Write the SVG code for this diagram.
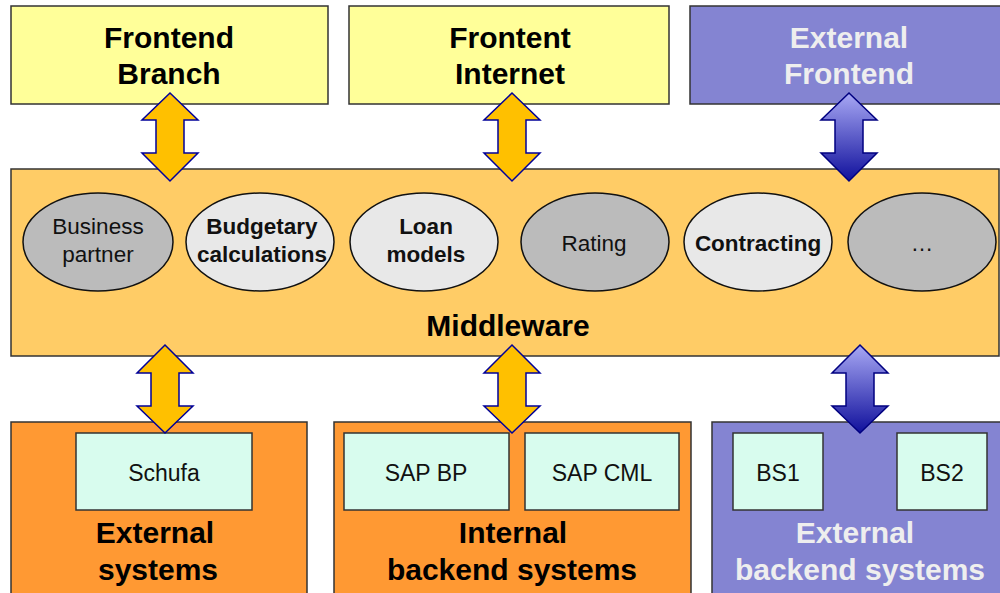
<svg xmlns="http://www.w3.org/2000/svg" width="1000" height="593" viewBox="0 0 1000 593">
<defs>
<linearGradient id="blueGrad" x1="0" y1="0" x2="0" y2="1">
<stop offset="0" stop-color="#A8A8F4"/>
<stop offset="1" stop-color="#10109C"/>
</linearGradient>
<style>
.box{stroke:#333333;stroke-width:1.5}
.yellow{fill:#FFFF99}
.purple{fill:#8484D2}
.mid{fill:#FFCC66}
.orange{fill:#FF9933}
.mint{fill:#D8FCEE;stroke:#333333;stroke-width:1.5}
.ell{stroke:#111111;stroke-width:1.5}
.gray{fill:#BBBBBB}
.light{fill:#E8E8E8}
.title{font-family:"Liberation Sans",Arial,sans-serif;font-weight:bold;font-size:30px;text-anchor:middle;fill:#000000}
.wt{fill:#EEEEEE}
.lbl{font-family:"Liberation Sans",Arial,sans-serif;font-size:22.5px;text-anchor:middle;fill:#111111}
.sm{font-size:23px}
.b{font-weight:bold}
.arr{fill:#FFC000;stroke:#000099;stroke-width:1.5;stroke-linejoin:miter}
.barr{fill:url(#blueGrad);stroke:#000080;stroke-width:1.5}
</style>
</defs>
<rect width="1000" height="593" fill="#FFFFFF"/>

<g id="frontend-branch">
<rect class="box yellow" x="11" y="6" width="317" height="98"/>
<text class="title" x="169" y="48">Frontend</text>
<text class="title" x="169" y="84">Branch</text>
</g>
<g id="frontent-internet">
<rect class="box yellow" x="349" y="6" width="320" height="98"/>
<text class="title" x="510" y="48">Frontent</text>
<text class="title" x="510" y="84">Internet</text>
</g>
<g id="external-frontend">
<rect class="box purple" x="690" y="6" width="315" height="98"/>
<text class="title wt" x="849" y="48">External</text>
<text class="title wt" x="849" y="84">Frontend</text>
</g>

<g id="middleware">
<rect class="box mid" x="11" y="169" width="988" height="187"/>
<text class="title" x="508" y="336">Middleware</text>
</g>
<g id="business-partner">
<ellipse class="ell gray" cx="98" cy="242" rx="75" ry="49"/>
<text class="lbl" x="98" y="234">Business</text>
<text class="lbl" x="98" y="262">partner</text>
</g>
<g id="budgetary-calculations">
<ellipse class="ell light" cx="260" cy="242" rx="74" ry="49"/>
<text class="lbl b" x="262" y="234">Budgetary</text>
<text class="lbl b" x="262" y="262">calculations</text>
</g>
<g id="loan-models">
<ellipse class="ell light" cx="424" cy="242" rx="74" ry="49"/>
<text class="lbl b" x="426" y="234">Loan</text>
<text class="lbl b" x="426" y="262">models</text>
</g>
<g id="rating">
<ellipse class="ell gray" cx="595" cy="242" rx="74" ry="49"/>
<text class="lbl" x="594" y="251">Rating</text>
</g>
<g id="contracting">
<ellipse class="ell light" cx="758" cy="242" rx="74" ry="49"/>
<text class="lbl b" x="758" y="251">Contracting</text>
</g>
<g id="more">
<ellipse class="ell gray" cx="922" cy="242" rx="74" ry="49"/>
<text class="lbl" x="922" y="251">…</text>
</g>

<g id="external-systems">
<rect class="box orange" x="11" y="422" width="296" height="180"/>
<text class="title" x="155" y="543">External</text>
<text class="title" x="158" y="580">systems</text>
</g>
<g id="schufa">
<rect class="mint" x="76" y="433" width="176" height="77"/>
<text class="lbl sm" x="164" y="481">Schufa</text>
</g>
<g id="internal-backend-systems">
<rect class="box orange" x="334" y="422" width="357" height="180"/>
<text class="title" x="513" y="543">Internal</text>
<text class="title" x="512" y="580">backend systems</text>
</g>
<g id="sap-bp">
<rect class="mint" x="344" y="433" width="165" height="77"/>
<text class="lbl sm" x="426" y="481">SAP BP</text>
</g>
<g id="sap-cml">
<rect class="mint" x="525" y="433" width="154" height="77"/>
<text class="lbl sm" x="602" y="481">SAP CML</text>
</g>
<g id="external-backend-systems">
<rect class="box purple" x="712" y="422" width="295" height="180"/>
<text class="title wt" x="855" y="543">External</text>
<text class="title wt" x="860" y="580">backend systems</text>
</g>
<g id="bs1">
<rect class="mint" x="733" y="433" width="90" height="77"/>
<text class="lbl sm" x="778" y="481">BS1</text>
</g>
<g id="bs2">
<rect class="mint" x="897" y="433" width="90" height="77"/>
<text class="lbl sm" x="942" y="481">BS2</text>
</g>

<g id="connectors">
<path class="arr" d="M170 93 L198 120 L184 120 L184 153 L198 153 L170 181 L142 153 L156 153 L156 120 L142 120 Z"/>
<path class="arr" d="M512 93 L540 120 L526 120 L526 153 L540 153 L512 181 L484 153 L498 153 L498 120 L484 120 Z"/>
<path class="barr" d="M849 93 L877 120 L863 120 L863 153 L877 153 L849 181 L821 153 L835 153 L835 120 L821 120 Z"/>
<path class="arr" d="M165 345 L193 373 L179 373 L179 406 L193 406 L165 433 L137 406 L151 406 L151 373 L137 373 Z"/>
<path class="arr" d="M512 345 L540 373 L526 373 L526 406 L540 406 L512 433 L484 406 L498 406 L498 373 L484 373 Z"/>
<path class="barr" d="M860 345 L888 373 L874 373 L874 406 L888 406 L860 433 L832 406 L846 406 L846 373 L832 373 Z"/>
</g>
</svg>
